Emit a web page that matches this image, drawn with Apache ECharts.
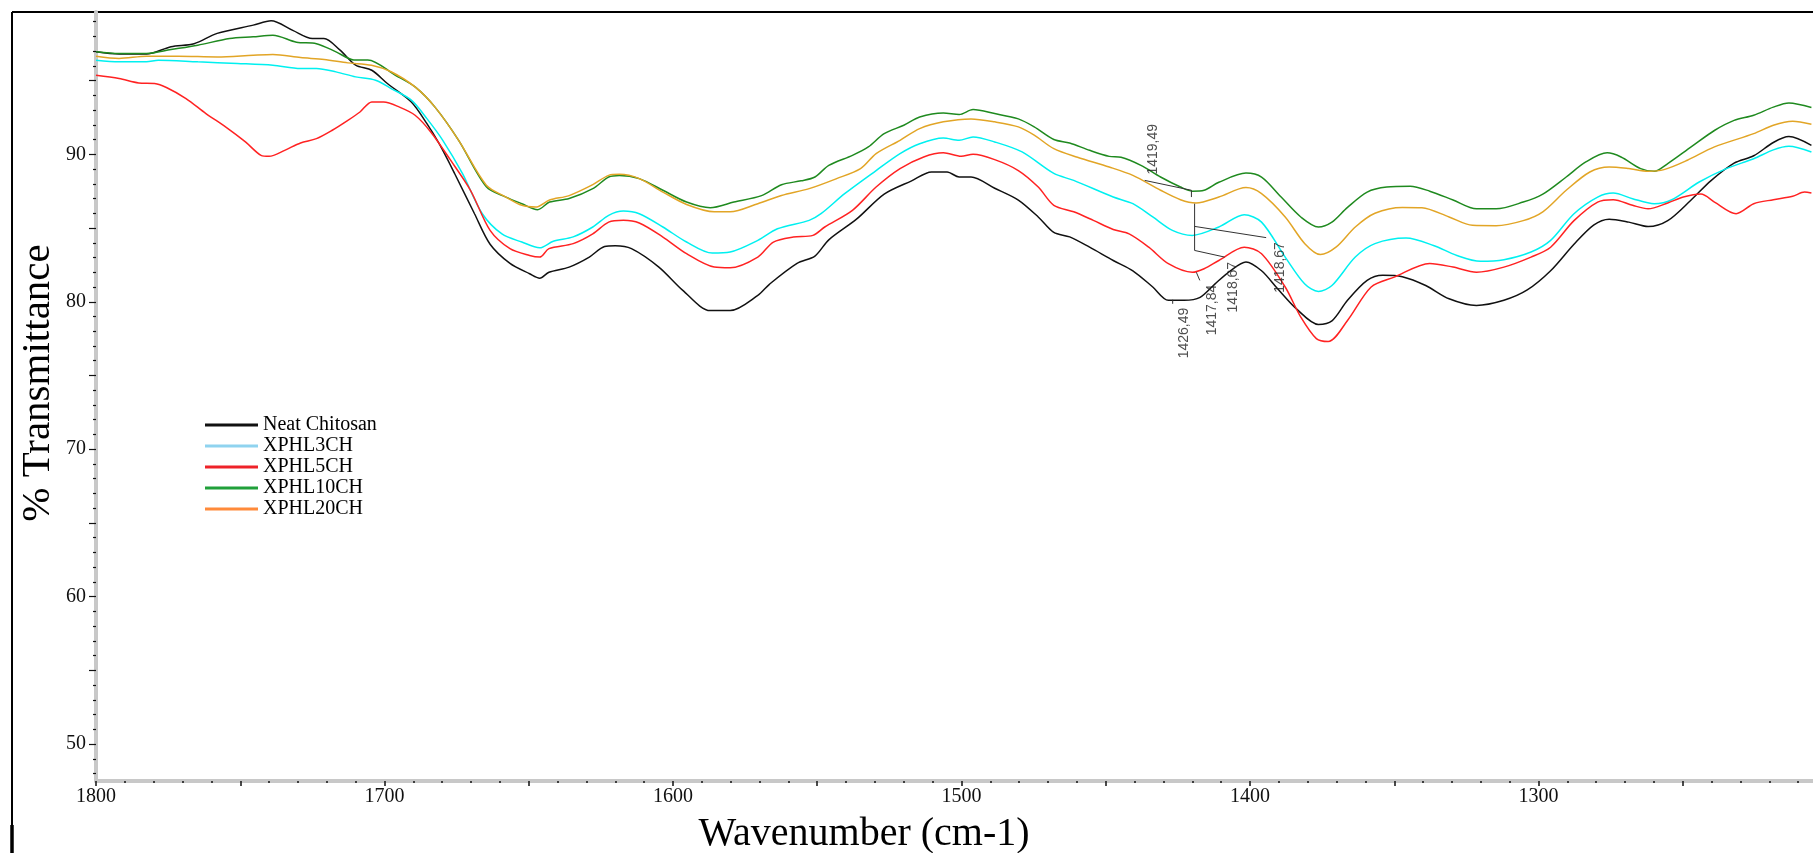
<!DOCTYPE html>
<html>
<head>
<meta charset="utf-8">
<script src="https://cdn.jsdelivr.net/npm/echarts@6/dist/echarts.min.js"></script>
<style>
html,body{margin:0;padding:0;background:#fff;}
#chart{width:1813px;height:853px;}
</style>
</head>
<body>
<div id="chart"></div>
<script>
// ---- data (wavenumber cm-1, % transmittance) ----
const seriesNames = ['Neat Chitosan', 'XPHL3CH', 'XPHL5CH', 'XPHL10CH', 'XPHL20CH'];

const neatChitosan = [[1800,96.95],[1792,96.8],[1782.5,96.8],[1774,97.3],[1766,97.5],[1758,98.2],[1745.5,98.76],[1739.3,99.05],[1731.8,98.4],[1725,97.85],[1721,97.85],[1715.4,97.06],[1710,96.04],[1704.4,95.7],[1699,94.8],[1690.7,93.55],[1685.3,92.08],[1681,90.7],[1675.7,88.7],[1668.8,85.97],[1663.4,83.9],[1656.5,82.6],[1649.7,81.9],[1646.2,81.6],[1643,82.0],[1636,82.35],[1629,83.03],[1623.7,83.75],[1620,83.8],[1614.4,83.6],[1604.9,82.35],[1596.6,80.77],[1587.1,79.4],[1580.2,79.4],[1570.6,80.43],[1566.5,81.2],[1557,82.6],[1550.8,83.1],[1546,84.2],[1536.4,85.6],[1526.8,87.3],[1517.3,88.2],[1510.4,88.8],[1505,88.8],[1500.8,88.46],[1496.7,88.46],[1488.5,87.7],[1480.3,86.9],[1473.4,85.75],[1468,84.7],[1462.5,84.4],[1455.6,83.7],[1447.4,82.8],[1440.6,82.1],[1433.7,81.0],[1428.3,80.1],[1422.8,80.1],[1417.3,80.3],[1412.2,81.2],[1406.8,82.1],[1401.4,82.7],[1396,82.1],[1390.5,80.9],[1383.8,79.5],[1376.3,78.46],[1371.6,78.7],[1366.2,80.1],[1359.4,81.45],[1354,81.8],[1347.2,81.7],[1339.1,81.1],[1331,80.2],[1321.5,79.75],[1312,80.1],[1303.9,80.8],[1295.8,82.1],[1287.7,83.9],[1280.9,85.2],[1275.5,85.6],[1268.7,85.4],[1262,85.1],[1255.2,85.5],[1247.1,86.9],[1240.3,88.2],[1232.2,89.4],[1225.4,89.9],[1218.6,90.8],[1213.2,91.2],[1205.4,90.6]];

const xphl3ch = [[1800,96.38],[1792,96.27],[1782.5,96.27],[1778.4,96.38],[1764.7,96.27],[1751,96.16],[1738.7,96.04],[1729.1,95.82],[1723.6,95.82],[1716.8,95.59],[1710,95.25],[1703.1,95.02],[1697.7,94.46],[1690.7,93.67],[1685.3,92.42],[1679.8,90.95],[1673,88.7],[1666.1,85.97],[1659.3,84.6],[1652.4,84.05],[1646.2,83.66],[1641.5,84.1],[1634.6,84.4],[1627.8,85.07],[1622.3,85.86],[1617.2,86.15],[1611.7,85.97],[1603.5,85.07],[1595.3,84.05],[1586.4,83.3],[1580.2,83.37],[1570.6,84.16],[1563.8,84.95],[1552.8,85.52],[1548.7,85.97],[1540.5,87.33],[1529.6,88.9],[1521.3,90.05],[1514.5,90.72],[1506.3,91.1],[1500.8,90.95],[1496,91.18],[1488.5,90.84],[1479,90.16],[1468,88.7],[1461.1,88.23],[1447.4,87.1],[1440.6,86.65],[1433.7,85.75],[1426.9,84.84],[1420,84.5],[1410.8,85.07],[1402,85.9],[1396,85.4],[1387.8,83.03],[1381,81.2],[1376.3,80.7],[1371.6,81.1],[1363.5,83.03],[1356.7,83.94],[1345.9,84.32],[1336.4,83.82],[1328.3,83.14],[1320.1,82.74],[1312,82.85],[1302.6,83.37],[1295.8,84.16],[1287.7,85.97],[1279.5,87.1],[1274.1,87.37],[1267.4,86.99],[1259.9,86.65],[1253.8,86.92],[1244.3,88.12],[1234.9,89.03],[1225.4,89.7],[1218.6,90.3],[1213.2,90.54],[1205.4,90.16]];

const xphl5ch = [[1800,95.36],[1792,95.14],[1785.2,94.84],[1779.7,94.8],[1775.6,94.53],[1768.8,93.78],[1761.9,92.76],[1755.1,91.86],[1748.2,90.84],[1742.8,89.93],[1740,89.86],[1734.6,90.27],[1729.1,90.77],[1723.6,91.06],[1718.1,91.63],[1712.7,92.3],[1708.5,92.87],[1704.4,93.55],[1700.3,93.55],[1694.8,93.2],[1689.4,92.65],[1683.9,91.5],[1677.1,89.6],[1670.2,87.56],[1663.4,84.84],[1656.5,83.6],[1649.7,83.14],[1646.2,83.03],[1643,83.6],[1634.6,83.94],[1627.8,84.6],[1622.3,85.4],[1617.2,85.52],[1611.7,85.34],[1603.5,84.39],[1595.3,83.26],[1585.7,82.35],[1580.2,82.3],[1570.6,83.03],[1565.2,84.05],[1558.3,84.39],[1551.5,84.5],[1547.4,85.07],[1537.8,86.2],[1529.6,87.78],[1521.3,89.03],[1513.1,89.82],[1506.3,90.1],[1500.1,89.86],[1496,90.0],[1488.5,89.64],[1480.3,88.9],[1473.4,87.78],[1468,86.54],[1461.1,86.1],[1454.3,85.52],[1447.4,84.9],[1441.9,84.6],[1435.1,83.7],[1428.3,82.58],[1420,82.0],[1415.9,82.24],[1410.8,82.8],[1402,83.7],[1396,83.26],[1387.8,81.0],[1382.4,78.96],[1377,77.5],[1372.9,77.3],[1366.2,78.73],[1358,81.0],[1350,81.67],[1337.7,82.6],[1329.6,82.35],[1321.5,82.0],[1312,82.35],[1302.6,83.03],[1295.8,83.7],[1287.7,85.5],[1279.5,86.76],[1274.1,86.92],[1267.4,86.54],[1262,86.3],[1255.2,86.7],[1249.8,87.1],[1243.7,87.3],[1239,86.76],[1231.5,85.97],[1225.4,86.65],[1218.6,86.92],[1211.9,87.15],[1207.8,87.44],[1205.4,87.37]];

const xphl10ch = [[1800,96.95],[1792,96.83],[1782.5,96.83],[1774,97.1],[1764.7,97.4],[1753.7,97.85],[1745.5,97.97],[1738.7,98.08],[1730.5,97.6],[1723.6,97.5],[1716.8,96.95],[1710.6,96.4],[1705.8,96.4],[1696.2,95.36],[1689.4,94.57],[1682.5,93.2],[1674.3,90.95],[1664.7,87.8],[1657.9,87.1],[1652.4,86.65],[1646.9,86.24],[1642.8,86.76],[1636,87.0],[1627.8,87.67],[1622.3,88.46],[1618.6,88.57],[1611.7,88.35],[1603.5,87.56],[1595.3,86.76],[1587.1,86.38],[1578.9,86.76],[1569.3,87.2],[1562.4,87.94],[1555.6,88.2],[1550.8,88.46],[1546,89.25],[1537.8,89.93],[1532.3,90.5],[1526.8,91.4],[1520,91.97],[1514.5,92.53],[1506.3,92.8],[1500.8,92.7],[1496,93.03],[1488.5,92.76],[1480.3,92.4],[1474.8,91.86],[1468,91.0],[1462.5,90.77],[1455.6,90.27],[1448.8,89.86],[1444.7,89.8],[1437.8,89.25],[1431,88.46],[1424.1,87.78],[1420,87.5],[1415.9,87.56],[1410.8,88.1],[1401.4,88.73],[1396,88.46],[1389.2,87.1],[1382.4,85.75],[1376.3,85.07],[1371.6,85.4],[1366.2,86.4],[1359.4,87.44],[1352.6,87.78],[1344.5,87.83],[1337.7,87.5],[1329.6,86.9],[1321.5,86.3],[1314.7,86.3],[1305.3,86.76],[1298.5,87.3],[1290.4,88.46],[1283.6,89.48],[1276.2,90.1],[1271.4,89.82],[1264.6,89.03],[1259.9,88.85],[1255.2,89.37],[1247.1,90.5],[1238.9,91.63],[1232.2,92.3],[1225.4,92.65],[1218.6,93.2],[1213.2,93.48],[1205.4,93.17]];

const xphl20ch = [[1800,96.65],[1792,96.5],[1782.5,96.65],[1771.5,96.65],[1758,96.6],[1745.5,96.72],[1738.7,96.77],[1729.1,96.56],[1720.9,96.43],[1712.7,96.2],[1704.5,96.04],[1697.7,95.6],[1689.4,94.57],[1682.5,93.2],[1674.3,90.95],[1664.7,87.9],[1657.9,87.1],[1652.4,86.54],[1647.6,86.42],[1642.8,86.9],[1636,87.2],[1627.8,87.94],[1622.3,88.57],[1618.6,88.64],[1611.7,88.35],[1603.5,87.44],[1595.3,86.6],[1585.7,86.1],[1580.2,86.1],[1570.6,86.65],[1562.4,87.2],[1552.8,87.67],[1543.3,88.35],[1535,89.03],[1529.6,90.05],[1521.3,90.95],[1514.5,91.74],[1506.3,92.2],[1496.7,92.4],[1488.5,92.2],[1480.3,91.86],[1474.8,91.3],[1468,90.38],[1459.8,89.8],[1448.8,89.14],[1440.6,88.57],[1431,87.56],[1424.1,86.92],[1418.7,86.7],[1410.8,87.1],[1401.4,87.74],[1396,87.33],[1387.8,85.75],[1381,83.94],[1375.6,83.2],[1370.2,83.7],[1363.5,85.07],[1356.7,86.0],[1347.2,86.4],[1340.4,86.38],[1331,85.75],[1322.9,85.18],[1314.7,85.16],[1305.3,85.5],[1298.5,86.1],[1290.4,87.56],[1282.2,88.8],[1275.5,89.14],[1268.7,89.03],[1262,88.85],[1256.5,88.96],[1248.4,89.6],[1239,90.5],[1225.4,91.4],[1218.6,91.97],[1211.9,92.24],[1205.4,92.04]];

// peak annotations: label text, label centre [wavenumber, %T], leader polyline
const peakLabels = ['1419,49', '1426,49', '1417,84', '1418,67', '1418,67'];
const peakLabelPos = [[1433.6, 90.34], [1422.9, 77.88], [1413.2, 79.44], [1405.9, 80.99], [1389.7, 82.33]];
const peakLeaders = [
  [[1436.5, 88.23], [1420.3, 87.56], [1420.3, 87.1]],
  [[1426.8, 80.14], [1426.8, 79.86]],
  [[1418.6, 82.0], [1417.4, 81.45]],
  [[1419.2, 86.65], [1419.2, 83.48], [1408.8, 83.03]],
  [[1419.2, 85.11], [1394.4, 84.35]]
];

// axis ticks
const xTickLabels = [1800, 1700, 1600, 1500, 1400, 1300];
const yTickLabels = [50, 60, 70, 80, 90];
const yMajorTicks = [50, 55, 60, 65, 70, 75, 80, 85, 90, 95];
const yMinorTicks = [48,49,51,52,53,54,56,57,58,59,61,62,63,64,66,67,68,69,71,72,73,74,76,77,78,79,81,82,83,84,86,87,88,89,91,92,93,94,96,97,98,99];

const lineColors = ['#111111', '#00f0f0', '#ff2222', '#1f8a1f', '#e2a526'];
const legendColors = ['#111111', '#8fd3ef', '#ee2229', '#20a03a', '#ff8a3a'];
const seriesData = [neatChitosan, xphl3ch, xphl5ch, xphl10ch, xphl20ch];

const serif = "'Liberation Serif', 'Times New Roman', serif";

const chart = echarts.init(document.getElementById('chart'), null, {renderer: 'canvas'});

const series = seriesNames.map((name, i) => ({
  name: name,
  type: 'line',
  data: seriesData[i],
  xAxisIndex: 0,
  yAxisIndex: 0,
  symbol: 'none',
  smooth: 0.3,
  lineStyle: {color: lineColors[i], width: 1.5},
  itemStyle: {color: lineColors[i]},
  z: 3
}));

peakLeaders.forEach((pts, i) => {
  series.push({
    name: 'leader' + i,
    type: 'line',
    data: pts,
    xAxisIndex: 0,
    yAxisIndex: 0,
    symbol: 'none',
    smooth: false,
    silent: true,
    lineStyle: {color: '#333', width: 1},
    z: 4
  });
});

series.push({
  name: 'peaks',
  type: 'scatter',
  xAxisIndex: 0,
  yAxisIndex: 0,
  symbolSize: 0,
  silent: true,
  data: peakLabels.map((t, i) => ({name: t, value: peakLabelPos[i]})),
  label: {
    show: true,
    position: 'inside',
    rotate: 90,
    formatter: '{b}',
    fontFamily: "'Liberation Sans', Arial, sans-serif",
    fontSize: 14,
    color: '#222'
  },
  z: 5
});

const option = {
  animation: false,
  backgroundColor: '#ffffff',
  grid: {left: 96, top: 12, width: 1731, bottom: 72, containLabel: false, outerBoundsMode: 'none'},
  legend: {
    orient: 'vertical',
    left: 205,
    top: 415,
    padding: 0,
    icon: 'rect',
    itemWidth: 53,
    itemHeight: 3,
    itemGap: 1,
    textStyle: {fontFamily: serif, fontSize: 20, color: '#000'},
    data: seriesNames.map((n, i) => ({name: n, itemStyle: {color: legendColors[i]}}))
  },
  xAxis: [{
    type: 'value',
    inverse: true,
    min: 1200,
    max: 1800,
    interval: 50,
    axisLine: {show: true, lineStyle: {color: '#c8c8c8', width: 4}},
    axisTick: {show: true, length: 5, lineStyle: {color: '#111', width: 1.5}},
    minorTick: {show: true, splitNumber: 5, length: 2, lineStyle: {color: '#111', width: 1.5}},
    splitLine: {show: false},
    axisLabel: {
      show: true,
      margin: 6,
      fontFamily: serif,
      fontSize: 20,
      color: '#111',
      formatter: function (v) { return xTickLabels.indexOf(v) >= 0 ? String(v) : ''; }
    }
  }],
  yAxis: [{
    type: 'value',
    min: 47.5,
    max: 99.65,
    position: 'left',
    axisLine: {show: true, lineStyle: {color: '#c8c8c8', width: 4}},
    axisTick: {show: true, length: 7, customValues: yMajorTicks, lineStyle: {color: '#111', width: 1.2}},
    splitLine: {show: false},
    axisLabel: {
      show: true,
      margin: 10,
      customValues: yTickLabels,
      fontFamily: serif,
      fontSize: 20,
      color: '#111'
    }
  }, {
    type: 'value',
    min: 47.5,
    max: 99.65,
    position: 'left',
    axisLine: {show: false},
    axisTick: {show: true, length: 3, customValues: yMinorTicks, lineStyle: {color: '#111', width: 1.2}},
    splitLine: {show: false},
    axisLabel: {show: false}
  }],
  graphic: [
    {type: 'line', shape: {x1: 12, y1: 12, x2: 1813, y2: 12}, style: {stroke: '#000', lineWidth: 2}, silent: true},
    {type: 'line', shape: {x1: 12, y1: 12, x2: 12, y2: 825}, style: {stroke: '#000', lineWidth: 2}, silent: true},
    {type: 'line', shape: {x1: 12, y1: 825, x2: 12, y2: 853}, style: {stroke: '#000', lineWidth: 3.5}, silent: true},
    {type: 'text', x: 864, y: 834, silent: true,
     style: {text: 'Wavenumber (cm-1)', font: "40px 'Liberation Serif', serif", fill: '#000', textAlign: 'center', textVerticalAlign: 'middle'}},
    {type: 'text', x: 38, y: 383, rotation: Math.PI / 2, silent: true,
     style: {text: '% Transmittance', font: "41px 'Liberation Serif', serif", fill: '#000', textAlign: 'center', textVerticalAlign: 'middle'}}
  ],
  series: series
};

chart.setOption(option);
</script>
</body>
</html>
